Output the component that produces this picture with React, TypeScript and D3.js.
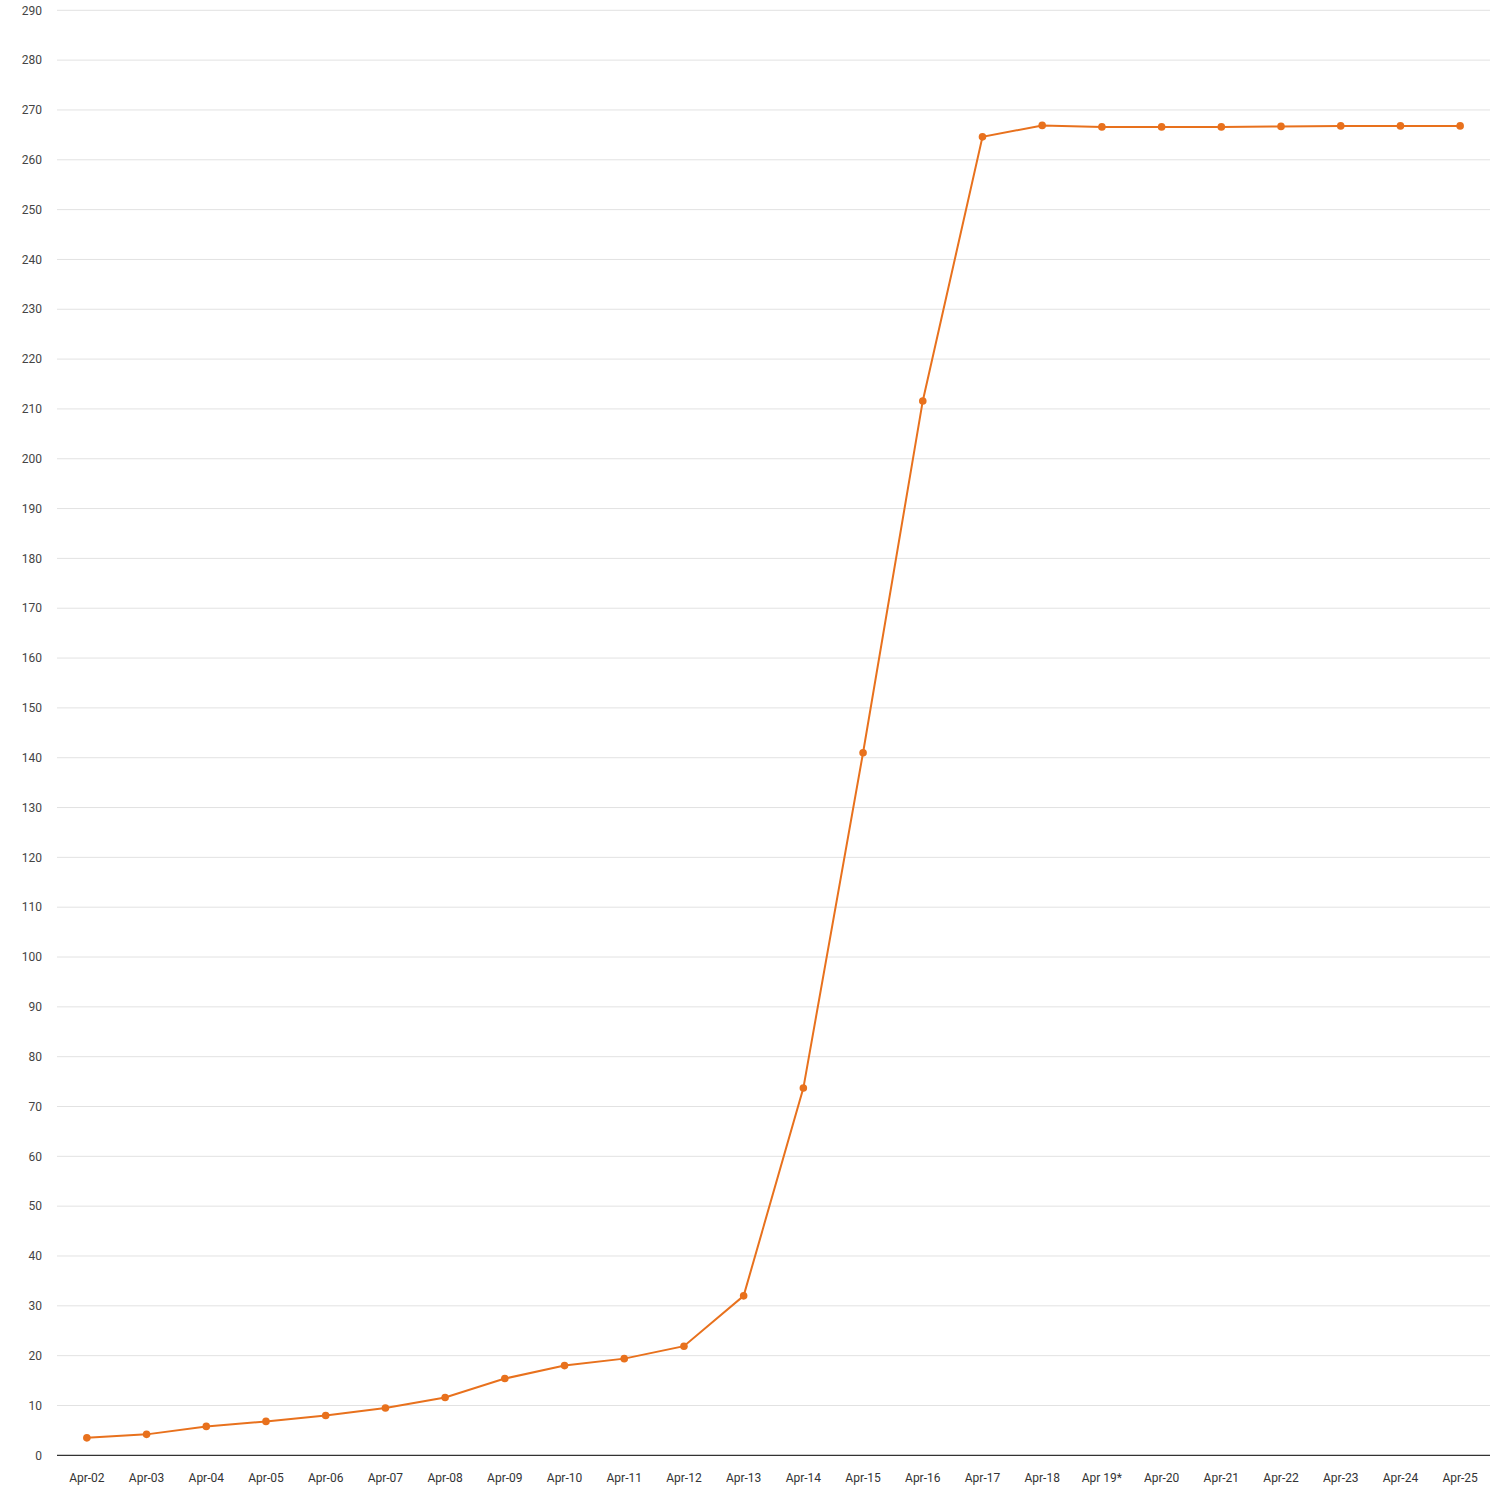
import React from "react";
import * as d3 from "d3";

const categories = [
  "Apr-02", "Apr-03", "Apr-04", "Apr-05", "Apr-06", "Apr-07", "Apr-08", "Apr-09",
  "Apr-10", "Apr-11", "Apr-12", "Apr-13", "Apr-14", "Apr-15", "Apr-16", "Apr-17",
  "Apr-18", "Apr 19*", "Apr-20", "Apr-21", "Apr-22", "Apr-23", "Apr-24", "Apr-25",
];
const values = [
  3.5, 4.2, 5.8, 6.8, 8.0, 9.5, 11.6, 15.4,
  18.0, 19.4, 21.9, 32.0, 73.7, 141.0, 211.6, 264.6,
  266.9, 266.6, 266.6, 266.6, 266.7, 266.8, 266.8, 266.8,
];
const yTicks = d3.range(0, 291, 10);

const W = 1500;
const H = 1500;
const left = 57;
const right = 1490;
const top = 10.3;
const bottom = 1455.3;
const color = "#e8711d";

export default function App() {
  const x = d3.scaleBand<string>().domain(categories).range([left, right]).padding(0);
  const y = d3.scaleLinear().domain([0, 290]).range([bottom, top]);
  const cx = (c: string) => (x(c) as number) + x.bandwidth() / 2;
  const line = d3
    .line<number>()
    .x((_, i) => cx(categories[i]))
    .y((d) => y(d));
  const font = "Roboto, 'Noto Sans', sans-serif";
  return (
    <svg
      width={W}
      height={H}
      style={{ position: "absolute", left: 0, top: 0, background: "#fff" }}
      fontFamily={font}
    >
      {yTicks.map((t) => (
        <g key={t}>
          {t > 0 && (
            <line x1={left} x2={right} y1={y(t)} y2={y(t)} stroke="#e2e2e2" strokeWidth={1} />
          )}
          <text x={42} y={y(t)} dy="0.35em" textAnchor="end" fontSize={12} fill="#444">
            {t}
          </text>
        </g>
      ))}
      <line x1={left} x2={right} y1={y(0)} y2={y(0)} stroke="#333" strokeWidth={1.2} />
      {categories.map((c) => (
        <text key={c} x={cx(c)} y={1478} dy="0.35em" textAnchor="middle" fontSize={12} fill="#333">
          {c}
        </text>
      ))}
      <path d={line(values) || ""} fill="none" stroke={color} strokeWidth={2} />
      {values.map((v, i) => (
        <circle key={i} cx={cx(categories[i])} cy={y(v)} r={3.8} fill={color} />
      ))}
    </svg>
  );
}
